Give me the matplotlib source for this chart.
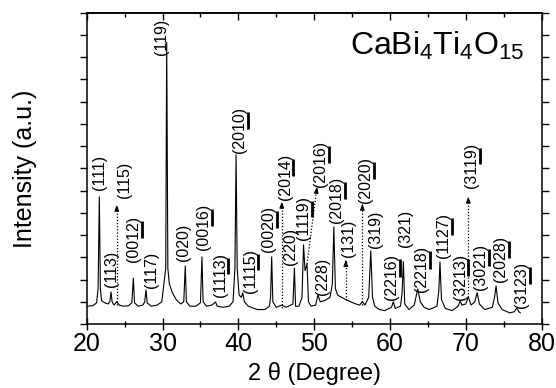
import matplotlib
matplotlib.use("Agg")
import matplotlib.pyplot as plt
from matplotlib.lines import Line2D
from matplotlib.transforms import IdentityTransform
from matplotlib.ticker import MultipleLocator, NullFormatter

plt.rcParams['font.family'] = ['Liberation Sans', 'DejaVu Sans']
plt.rcParams['mathtext.fontset'] = 'custom'
plt.rcParams['mathtext.rm'] = 'Liberation Sans'
plt.rcParams['mathtext.it'] = 'Liberation Sans:italic'

# XRD trace, 2theta (deg) vs intensity (a.u.)
two_theta = [20.0, 20.8, 21.3, 21.5, 21.66, 21.8, 21.95, 22.4, 22.8, 23.05,
             23.2, 23.35, 23.6, 23.96, 24.3, 24.8, 25.5, 25.95, 26.15, 26.3,
             26.8, 27.4, 27.65, 27.82, 27.98, 28.5, 29.3, 29.9, 30.42, 30.55,
             30.7, 30.9, 31.3, 31.8, 32.4, 32.8, 33.0, 33.15, 33.6, 34.4,
             35.0, 35.2, 35.35, 35.8, 36.5, 36.85, 37.0, 37.2, 38.0, 38.8,
             39.3, 39.55, 39.7, 39.85, 40.1, 40.4, 40.58, 40.8, 41.3, 42.5,
             43.5, 44.1, 44.25, 44.4, 44.55, 45.0, 45.7, 46.3, 47.2, 47.4,
             47.55, 48.0, 48.4, 48.6, 48.8, 49.06, 49.25, 49.6, 50.2, 50.5,
             50.8, 51.4, 52.1, 52.4, 52.6, 52.8, 53.1, 53.6, 54.17, 54.8,
             55.5, 56.0, 56.36, 56.7, 57.2, 57.47, 57.7, 58.0, 58.6, 59.3,
             60.2, 60.45, 60.7, 61.4, 61.6, 61.77, 61.95, 62.5, 63.2, 63.67,
             64.0, 64.5, 65.2, 66.2, 66.45, 66.6, 66.8, 67.3, 68.2, 69.0,
             69.25, 69.5, 70.0, 70.34, 70.7, 71.2, 71.5, 71.8, 72.5, 73.5,
             73.8, 74.0, 74.25, 74.8, 75.8, 76.4, 76.73, 77.0, 77.2]
intensity = [0.80, 0.82, 0.95, 1.6, 5.72, 1.6, 1.05, 0.95, 0.9, 1.0,
             1.44, 1.0, 0.85, 1.0, 0.85, 0.8, 0.82, 0.95, 2.07, 0.95,
             0.8, 0.85, 1.0, 1.53, 0.95, 0.8, 0.85, 1.0, 2.5, 12.66,
             2.5, 1.8, 1.4, 1.1, 0.9, 1.0, 2.61, 1.0, 0.8, 0.8,
             0.95, 3.02, 1.0, 0.8, 0.85, 0.95, 0.99, 0.8, 0.75, 0.8,
             1.0, 2.5, 7.61, 2.5, 1.3, 1.2, 1.40, 1.0, 0.8, 0.65,
             0.65, 0.8, 1.2, 3.02, 1.0, 0.75, 0.85, 0.75, 0.9, 2.52,
             0.8, 0.8, 1.2, 3.56, 2.4, 2.70, 1.0, 0.8, 0.85, 1.31,
             1.0, 1.05, 1.2, 1.8, 4.37, 1.6, 1.3, 1.2, 1.1, 1.0,
             0.9, 0.85, 1.0, 0.85, 1.2, 3.29, 1.2, 0.8, 0.65, 0.6,
             0.75, 1.0, 0.7, 0.8, 1.4, 2.81, 0.9, 0.65, 0.85, 1.58,
             1.0, 0.75, 0.65, 0.8, 1.5, 2.79, 1.1, 0.7, 0.6, 0.8,
             1.04, 0.85, 0.9, 1.22, 0.85, 1.0, 1.41, 0.9, 0.65, 0.75,
             1.2, 1.71, 0.95, 0.65, 0.5, 0.55, 0.72, 0.55, 0.5]

# Miller indices; 4-digit ones have a two-digit last index (underlined)
peak_labels = ["(111)", "(113)", "(115)", "(0012)", "(117)", "(119)", "(020)",
               "(0016)", "(1113)", "(2010)", "(1115)", "(0020)", "(2014)",
               "(220)", "(1119)", "(2016)", "(228)", "(2018)", "(131)",
               "(2020)", "(319)", "(2216)", "(321)", "(2218)", "(1127)",
               "(3213)", "(3119)", "(3021)", "(2028)", "(3123)"]
label_x = [21.66, 23.30, 24.96, 26.15, 28.48, 29.80, 32.70, 35.38, 37.59, 40.13,
           41.54, 43.96, 46.16, 46.91, 48.58, 50.87, 51.04, 52.98, 54.51, 56.81,
           58.03, 60.24, 61.99, 64.20, 67.05, 69.25, 70.79, 71.98, 74.62, 77.39]
label_y = [6.04, 1.65, 5.66, 2.79, 1.62, 12.12, 2.84, 3.33, 1.22, 7.70,
           1.40, 3.24, 5.59, 2.66, 3.78, 6.17, 1.31, 4.55, 3.02, 5.45,
           3.42, 1.08, 3.47, 1.44, 2.97, 1.08, 6.13, 1.53, 1.89, 0.72]

# dotted pointers for weak reflections: (start x, start y) -> (tip x, tip y)
arrow_x0 = [23.96, 45.73, 49.06, 54.17, 56.36, 70.34]
arrow_y0 = [0.85, 0.72, 2.70, 1.08, 0.86, 1.22]
arrow_x1 = [23.96, 45.73, 50.38, 54.17, 56.36, 70.34]
arrow_y1 = [5.36, 5.50, 6.17, 2.88, 5.41, 5.73]

fig = plt.figure(figsize=(5.56, 3.88), dpi=100)
ax = fig.add_axes([0.156, 0.165, 0.818, 0.802])

ax.plot(two_theta, intensity, color='black', lw=0.8)

for x0, y0, x1, y1 in zip(arrow_x0, arrow_y0, arrow_x1, arrow_y1):
    ax.plot([x0, x1], [y0, y1], color='black', lw=0.9, linestyle=(0, (1, 1.5)))
    # short solid head at the tip
    hx = x1 - (x1 - x0) * 0.06
    hy = y1 - (y1 - y0) * 0.06
    ax.annotate('', xy=(x1, y1), xytext=(hx, hy),
                arrowprops=dict(arrowstyle='-|>,head_length=0.35,head_width=0.13',
                                color='black', lw=0.8, shrinkA=0, shrinkB=0))

fs_peak = 11.5
texts = []
for s, x, y in zip(peak_labels, label_x, label_y):
    t = ax.text(x, y, s, rotation=90, ha='center', va='bottom', fontsize=fs_peak)
    texts.append(t)

ax.text(0.962, 0.864, r'CaBi$_4$Ti$_4$O$_{15}$', transform=ax.transAxes,
        ha='right', va='baseline', fontsize=23)

ax.set_xlim(20, 80)
ax.set_ylim(0, 14)
ax.xaxis.set_major_locator(MultipleLocator(10))
ax.xaxis.set_minor_locator(MultipleLocator(5))
ax.yaxis.set_major_locator(MultipleLocator(1))
ax.yaxis.set_major_formatter(NullFormatter())
ax.tick_params(axis='x', which='both', direction='inout', top=False, labelsize=18,
               pad=2, width=1)
ax.tick_params(axis='x', which='major', length=8)
ax.tick_params(axis='x', which='minor', length=5)
ax.tick_params(axis='y', direction='out', right=True, length=5, width=1)
for sp in ax.spines.values():
    sp.set_linewidth(1.1)

# top axis: inward ticks only
top = ax.secondary_xaxis('top')
top.xaxis.set_major_locator(MultipleLocator(10))
top.xaxis.set_minor_locator(MultipleLocator(5))
top.tick_params(which='both', direction='in', labeltop=False, width=1)
top.tick_params(which='major', length=5)
top.tick_params(which='minor', length=3)
top.spines['top'].set_linewidth(1.1)

ax.set_xlabel('2 θ (Degree)', fontsize=17, labelpad=4)
ax.set_ylabel('Intensity (a.u.)', fontsize=18, labelpad=27)

# underline the two-digit index in the rotated labels
fig.canvas.draw()
renderer = fig.canvas.get_renderer()


def text_width(s):
    tmp = ax.text(0, 0, s, fontsize=fs_peak)
    w = tmp.get_window_extent(renderer).width
    tmp.remove()
    return w


for t, s in zip(texts, peak_labels):
    if len(s) != 6:
        continue
    bb = t.get_window_extent(renderer)
    ya = bb.y0 + text_width(s[:3]) + 0.5
    yb = bb.y0 + text_width(s[:5])
    xb = bb.x1 + 0.8
    fig.add_artist(Line2D([xb, xb], [ya, yb], color='black', lw=2.0,
                          solid_capstyle='butt', transform=IdentityTransform()))

fig.savefig('out.png', dpi=100)
